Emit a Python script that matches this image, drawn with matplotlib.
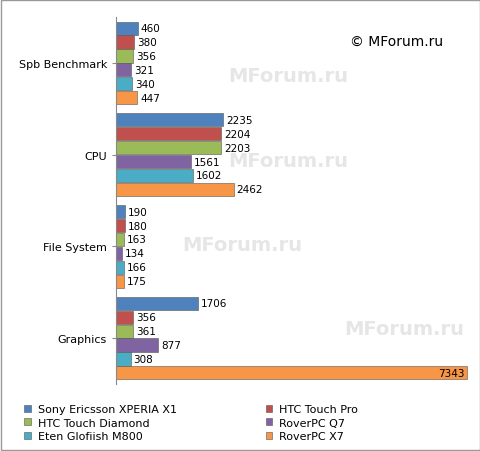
import matplotlib.pyplot as plt
import numpy as np

categories = ["Spb Benchmark", "CPU", "File System", "Graphics"]
series = ["Sony Ericsson XPERIA X1", "HTC Touch Pro", "HTC Touch Diamond",
          "RoverPC Q7", "Eten Glofiish M800", "RoverPC X7"]
values = [
    [460, 2235, 190, 1706],
    [380, 2204, 180, 356],
    [356, 2203, 163, 361],
    [321, 1561, 134, 877],
    [340, 1602, 166, 308],
    [447, 2462, 175, 7343],
]
colors = ["#4F81BD", "#C0504D", "#9BBB59", "#8064A2", "#4BACC6", "#F79646"]

fig = plt.figure(figsize=(4.81, 4.52), dpi=100)
fig.patch.set_facecolor("white")
ax = fig.add_axes([116 / 481, 1 - 385 / 452, 352 / 481, 367 / 452])

n = len(series)
h = 1.0 / (n + 0.6)
xmax = 7360
handles = []
for i, (name, vals, c) in enumerate(zip(series, values, colors)):
    y = np.arange(len(categories)) - (n - 1) / 2 * h + i * h
    b = ax.barh(y, vals, height=h * 0.95, color=c, edgecolor="#555555", linewidth=0.4, label=name)
    handles.append(b)
    for yy, v in zip(y, vals):
        if v > xmax * 0.85:
            ax.text(v - 60, yy, str(v), va="center", ha="right", fontsize=7.5, color="black")
        else:
            ax.text(v + 60, yy, str(v), va="center", ha="left", fontsize=7.5, color="black")

ax.set_ylim(len(categories) - 0.5, -0.5)
ax.set_xlim(0, xmax)
ax.set_yticks(range(len(categories)))
ax.set_yticklabels(categories, fontsize=8)
ax.set_xticks([])
for s in ["top", "right", "bottom"]:
    ax.spines[s].set_visible(False)
ax.spines["left"].set_color("#888888")
ax.tick_params(axis="y", length=3, color="#888888")

ax.text(0.93, 0.935, "© MForum.ru", transform=ax.transAxes, ha="right", va="center",
        fontsize=10, color="black")
for (x, y) in [(0.49, 0.84), (0.49, 0.61), (0.36, 0.38), (0.82, 0.15)]:
    ax.text(x, y, "MForum.ru", transform=ax.transAxes, fontsize=14, fontweight="bold",
            color="#e6e6e6", ha="center", va="center", zorder=0)

# legend is filled row by row in the reference
order = [0, 2, 4, 1, 3, 5]
leg = fig.legend([handles[k] for k in order], [series[k] for k in order],
                 loc="lower left", ncol=2, bbox_to_anchor=(0.03, 0.0), frameon=False,
                 fontsize=8, handlelength=0.6, handleheight=0.6, columnspacing=8,
                 labelspacing=0.3, handletextpad=0.6)
fig.add_artist(plt.Rectangle((0.002, 0.002), 0.996, 0.996, transform=fig.transFigure,
                             fill=False, edgecolor="#999999", linewidth=1))
fig.savefig("out.png", dpi=100)
